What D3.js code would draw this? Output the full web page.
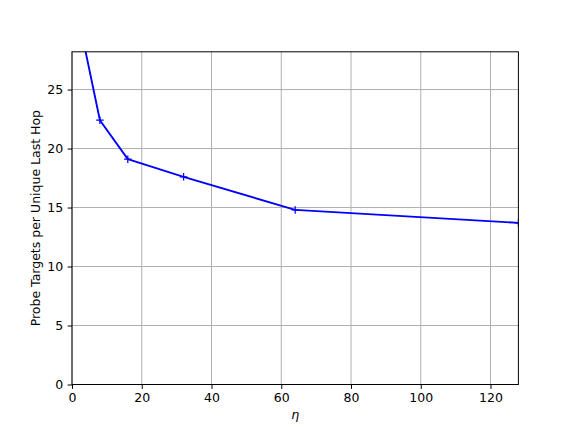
<!DOCTYPE html>
<html>
<head>
<meta charset="utf-8">
<script src="https://cdn.jsdelivr.net/npm/d3@7"></script>
<style>
  body { margin: 0; background: #fff; }
  svg { display: block; font-family: "DejaVu Sans", sans-serif; }
  .grid line { stroke: #b0b0b0; stroke-width: 1; }
</style>
</head>
<body>
<svg id="chart" width="576" height="432"></svg>
<script>
// values
var eta = [2, 8, 16, 32, 64, 128];
var targetsPerHop = [30.9, 22.4, 19.1, 17.6, 14.8, 13.7];
var xTicks = [0, 20, 40, 60, 80, 100, 120];
var yTicks = [0, 5, 10, 15, 20, 25];

var svg = d3.select("#chart"),
    width = +svg.attr("width"),
    height = +svg.attr("height");

// 1pt = 1.25px here (figure drawn at 90 dpi)
var pt = 1.25;
var fontSize = 10 * pt;

var margin = {left: 72, right: 57.6, top: 51.8, bottom: 47.5};
var x = d3.scaleLinear().domain([0, 128]).range([margin.left, width - margin.right]);
var y = d3.scaleLinear().domain([0, 28.2]).range([height - margin.bottom, margin.top]);

// Grid lines first, under everything.
var grid = svg.append("g").attr("class", "grid");
grid.selectAll(".gx").data(xTicks).enter().append("line")
    .attr("x1", function(d) { return x(d); })
    .attr("x2", function(d) { return x(d); })
    .attr("y1", y.range()[0])
    .attr("y2", y.range()[1]);
grid.selectAll(".gy").data(yTicks).enter().append("line")
    .attr("y1", function(d) { return y(d); })
    .attr("y2", function(d) { return y(d); })
    .attr("x1", x.range()[0])
    .attr("x2", x.range()[1]);

svg.append("clipPath").attr("id", "plotArea")
  .append("rect")
    .attr("x", x.range()[0])
    .attr("y", y.range()[1])
    .attr("width", x.range()[1] - x.range()[0])
    .attr("height", y.range()[0] - y.range()[1]);

var plot = svg.append("g").attr("clip-path", "url(#plotArea)");

var pts = eta.map(function(d, i) { return [d, targetsPerHop[i]]; });

plot.append("path")
    .datum(pts)
    .attr("fill", "none")
    .attr("stroke", "#0000ff")
    .attr("stroke-width", 1.5 * pt)
    .attr("stroke-linejoin", "round")
    .attr("d", d3.line()
        .x(function(d) { return x(d[0]); })
        .y(function(d) { return y(d[1]); }));

// '+' markers
plot.selectAll(".marker").data(pts).enter().append("path")
    .attr("class", "marker")
    .attr("fill", "none")
    .attr("stroke", "#0000ff")
    .attr("stroke-width", 1 * pt)
    .attr("d", function(d) {
      var cx = x(d[0]), cy = y(d[1]), r = 3 * pt;
      return "M" + (cx - r) + "," + cy + "H" + (cx + r) + "M" + cx + "," + (cy - r) + "V" + (cy + r);
    });

// Axes, matplotlib style ticks.
var xAxis = svg.append("g")
    .attr("transform", "translate(0," + y.range()[0] + ")")
    .call(d3.axisBottom(x).tickValues(xTicks).tickSize(3.5 * pt).tickPadding(3.5 * pt).tickSizeOuter(0));
var yAxis = svg.append("g")
    .attr("transform", "translate(" + x.range()[0] + ",0)")
    .call(d3.axisLeft(y).tickValues(yTicks).tickSize(3.5 * pt).tickPadding(3.5 * pt).tickSizeOuter(0));

[xAxis, yAxis].forEach(function(a) {
  a.select(".domain").remove();
  a.selectAll(".tick line").attr("stroke", "#000").attr("stroke-width", 0.8 * pt);
  a.selectAll(".tick text")
      .attr("font-family", "DejaVu Sans, sans-serif")
      .attr("font-size", fontSize)
      .attr("fill", "#000");
});

// Spines
svg.append("rect")
    .attr("x", x.range()[0])
    .attr("y", y.range()[1])
    .attr("width", x.range()[1] - x.range()[0])
    .attr("height", y.range()[0] - y.range()[1])
    .attr("fill", "none")
    .attr("stroke", "#000")
    .attr("stroke-width", 0.8 * pt);

svg.append("text")
    .attr("x", (x.range()[0] + x.range()[1]) / 2)
    .attr("y", 419)
    .attr("text-anchor", "middle")
    .attr("font-size", fontSize)
    .attr("font-style", "italic")
    .text("η");

svg.append("text")
    .attr("transform", "translate(39.5," + ((y.range()[0] + y.range()[1]) / 2) + ") rotate(-90)")
    .attr("text-anchor", "middle")
    .attr("font-size", fontSize)
    .text("Probe Targets per Unique Last Hop");
</script>
</body>
</html>
